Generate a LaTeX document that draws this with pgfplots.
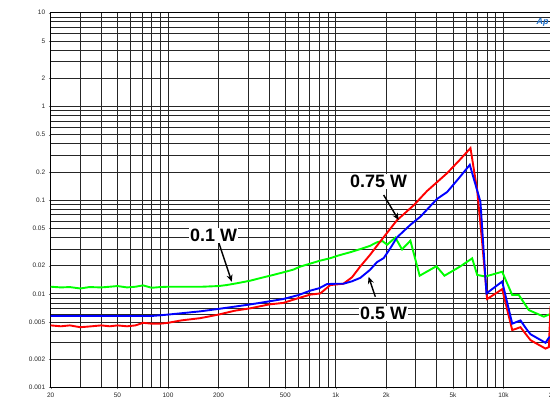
\documentclass[border=0pt]{standalone}
\usepackage{pgfplots}
\pgfplotsset{compat=1.18}
\usepackage{fontspec}
\setmainfont{Liberation Sans}
\usetikzlibrary{arrows.meta}

\pgfplotstableread{
f y
20 0.0119
23 0.0117
26 0.0118
30 0.0114
34 0.0118
40 0.0117
45 0.0119
50 0.0121
57 0.0117
64 0.0119
71 0.0123
80 0.0116
90 0.0118
100 0.0119
130 0.0119
160 0.0119
200 0.0121
224 0.0124
260 0.0130
309 0.0138
360 0.0148
424 0.0159
490 0.0170
558 0.0181
614 0.0195
705 0.0210
800 0.0225
928 0.0240
1050 0.0258
1222 0.0278
1400 0.0300
1600 0.0325
1762 0.0355
1900 0.0365
2023 0.0334
2266 0.0398
2484 0.0298
2786 0.0369
3164 0.0156
3982 0.0197
4446 0.0156
5500 0.0195
6504 0.0239
6969 0.0159
7806 0.0153
9818 0.0172
11270 0.0097
12340 0.0097
14160 0.0067
17400 0.0057
18640 0.0060
20000 0.0062
}\greendata

\pgfplotstableread{
f y
20 0.0058
25 0.0058
30 0.0058
40 0.0058
50 0.0058
60 0.0058
70 0.0058
80 0.0058
90 0.0059
100 0.0060
120 0.0062
156 0.0065
200 0.0069
250 0.0073
309 0.0077
400 0.0083
487 0.0088
600 0.0097
705 0.0108
800 0.0115
887 0.0127
1000 0.0128
1110 0.0128
1250 0.0136
1401 0.0148
1600 0.0180
1762 0.0218
1929 0.0240
2100 0.0300
2318 0.0400
2786 0.0545
3193 0.0665
4019 0.103
4613 0.122
5400 0.170
6295 0.238
7286 0.096
7915 0.0101
9818 0.0135
11270 0.0048
12620 0.0052
13840 0.0041
14490 0.0037
17800 0.0030
18640 0.0034
20000 0.0036
}\bluedata

\pgfplotstableread{
f y
20 0.0046
23 0.0045
26 0.0046
30 0.0044
35 0.0045
40 0.0046
45 0.0045
50 0.0046
57 0.0045
64 0.0046
71 0.0049
80 0.0048
90 0.0048
100 0.0049
120 0.0052
156 0.0055
200 0.0060
250 0.0066
309 0.0070
400 0.0077
487 0.0080
600 0.0090
705 0.0098
809 0.0101
928 0.0124
1110 0.0128
1250 0.0150
1401 0.0196
1600 0.0260
1845 0.0363
2318 0.0610
2914 0.0880
3500 0.125
4613 0.194
5500 0.270
6355 0.359
6969 0.127
7464 0.035
7990 0.0088
9818 0.0112
11270 0.0041
12620 0.0044
14490 0.0032
17800 0.0026
18640 0.0027
19070 0.0073
20000 0.0080
}\reddata

\begin{document}
\begin{tikzpicture}
\begin{axis}[
  xmode=log, ymode=log,
  scale only axis, width=503.3bp, height=374.8bp,
  xmin=20, xmax=20000, ymin=0.001, ymax=10,
  xtick={20,50,100,200,500,1000,2000,5000,10000,20000},
  xticklabels={20,50,100,200,500,1k,2k,5k,10k,20k},
  minor xtick={30,40,60,70,80,90,300,400,600,700,800,900,3000,4000,6000,7000,8000,9000},
  ytick={0.001,0.002,0.005,0.01,0.02,0.05,0.1,0.2,0.5,1,2,5,10},
  yticklabels={0.001,0.002,0.005,0.01,0.02,0.05,0.1,0.2,0.5,1,2,5,10},
  minor ytick={0.003,0.004,0.006,0.007,0.008,0.009,0.03,0.04,0.06,0.07,0.08,0.09,0.3,0.4,0.6,0.7,0.8,0.9,3,4,6,7,8,9},
  grid=both,
  major grid style={black!85, line width=0.7bp},
  minor grid style={black!85, line width=0.7bp},
  tick label style={font=\fontsize{6.5}{7}\selectfont, text=black!85},
  xtick pos=bottom, ytick pos=left,
  tick align=outside,
  major tick length=2bp, minor tick length=0bp,
  axis line style={black, line width=0.9bp},
  clip=true,
]
\addplot[color={rgb,255:red,0;green,255;blue,0}, line width=1.9bp] table[x=f,y=y] {\greendata};
\addplot[color={rgb,255:red,255;green,0;blue,0}, line width=1.9bp] table[x=f,y=y] {\reddata};
\addplot[color={rgb,255:red,0;green,0;blue,255}, line width=1.9bp] table[x=f,y=y] {\bluedata};

\draw[-{Stealth[length=7bp,width=6bp]}, line width=1.4bp] (axis cs:1930,0.1134) -- (axis cs:2372,0.0613);
\draw[-{Stealth[length=7bp,width=6bp]}, line width=1.4bp] (axis cs:1722,0.0093) -- (axis cs:1570,0.0152);
\draw[-{Stealth[length=7bp,width=6bp]}, line width=1.4bp] (axis cs:200,0.036) -- (axis cs:240,0.01346);

\node[fill=white, inner sep=1bp, font=\bfseries\fontsize{18}{20}\selectfont] at (axis cs:1802,0.157) {0.75 W};
\node[fill=white, inner sep=1bp, font=\bfseries\fontsize{18}{20}\selectfont] at (axis cs:1930,0.0062) {0.5 W};
\node[fill=white, inner sep=1bp, font=\bfseries\fontsize{18}{20}\selectfont] at (axis cs:187,0.0417) {0.1 W};

\node[font=\fontsize{6.5}{7}\selectfont, text=black!85] at (axis description cs:0.4933,0) [yshift=-18.5bp] {Hz};
\node[font=\fontsize{6.5}{7}\selectfont, text=black!85] at (axis description cs:0,0.5) [xshift=-35.7bp] {\%};
\end{axis}
\node[font=\itshape\bfseries\fontsize{9}{10}\selectfont, text={rgb,255:red,30;green,110;blue,200}] at (492bp,365bp) {Ap};
\pgfresetboundingbox
\path[use as bounding box] (-50.7bp,-20.5bp) rectangle (499.3bp,387.5bp);
\end{tikzpicture}
\end{document}
